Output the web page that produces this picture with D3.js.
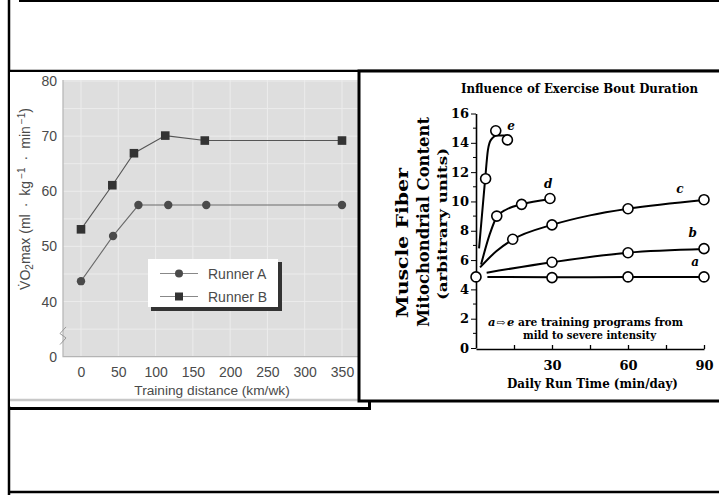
<!DOCTYPE html>
<html>
<head>
<meta charset="utf-8">
<script src="https://cdn.jsdelivr.net/npm/d3@7"></script>
<style>
  body { margin: 0; background: #fff; }
  svg { display: block; }
  .sans text { font-family: "Liberation Sans", Arial, sans-serif; }
  .serif text { font-family: "DejaVu Serif", serif; font-weight: bold; }
</style>
</head>
<body>
<div id="chart"></div>
<script>
// ---- left chart data: VO2max vs training distance ----
const trainingKm = [0, 43, 77, 117, 168, 350];
const runnerA = [43.7, 51.9, 57.5, 57.5, 57.5, 57.5];
const runnerBKm = [0, 42, 71, 113, 166, 350];
const runnerB = [53.1, 61.1, 66.9, 70.1, 69.2, 69.2];
const kmTicks = [0, 50, 100, 150, 200, 250, 300, 350];
const vo2Ticks = [30, 40, 50, 60, 70, 80]; // 30 is shown as "0" (broken axis)

// ---- right chart data: mitochondrial content vs daily run time ----
const runTicks = [15, 30, 45, 60, 75, 90];
const contentTicks = [0, 2, 4, 6, 8, 10, 12, 14, 16];
// fitted curves
const curveA = [[4.5, 4.85], [30, 4.82], [60, 4.85], [90, 4.85]];
const curveB = [[4.2, 5.14], [30, 5.85], [60, 6.5], [90, 6.75]];
const curveC = [[1.6, 5.5], [8, 6.6], [14.5, 7.4], [30, 8.4], [45, 9.05], [60, 9.5], [90, 10.1]];
const curveD = [[2, 5.7], [5.5, 7.8], [8.2, 8.95], [12, 9.45], [18, 9.8], [29, 10.15]];
const curveE = [[1.2, 6.8], [3.6, 11.5], [4.7, 13.5], [5.9, 14.2], [8.3, 14.5], [12.4, 14.5]];
// measured points
const pointsA = [[0, 4.85], [30, 4.8], [60, 4.85], [90, 4.85]];
const pointsB = [[30, 5.85], [60, 6.5], [90, 6.78]];
const pointsC = [[14.5, 7.42], [30, 8.4], [60, 9.5], [90, 10.12]];
const pointsD = [[8.2, 9.0], [18, 9.8], [29.2, 10.2]];
const pointsE = [[3.8, 11.55], [7.8, 14.82], [12.4, 14.2]];
const curveNames = ["a", "b", "c", "d", "e"];
const labelAt = [[86.5, 5.6], [85.5, 7.6], [80.5, 10.6], [28.5, 10.9], [13.8, 14.9]];

const width = 719, height = 495;

const svg = d3.select("#chart").append("svg")
    .attr("width", width)
    .attr("height", height);

// slide frame
svg.append("line").attr("x1", 19).attr("x2", width).attr("y1", 1).attr("y2", 1)
    .attr("stroke", "#000").attr("stroke-width", 2);
svg.append("line").attr("x1", 9).attr("x2", width).attr("y1", 71).attr("y2", 71)
    .attr("stroke", "#000").attr("stroke-width", 2.5);
svg.append("line").attr("x1", 9).attr("x2", 9).attr("y1", 0).attr("y2", height)
    .attr("stroke", "#000").attr("stroke-width", 2.5);
svg.append("line").attr("x1", 9).attr("x2", width).attr("y1", 492).attr("y2", 492)
    .attr("stroke", "#000").attr("stroke-width", 2.5);

// ================= left panel =================
const left = svg.append("g").attr("class", "sans");

left.append("rect").attr("x", 10).attr("y", 72).attr("width", 358).attr("height", 334)
    .attr("fill", "#fff");
left.append("line").attr("x1", 10).attr("x2", 367).attr("y1", 400).attr("y2", 400)
    .attr("stroke", "#c8c8c8").attr("stroke-width", 2.5);
left.append("path").attr("d", "M10,408.5H369.5V399")
    .attr("fill", "none").attr("stroke", "#000").attr("stroke-width", 3);

const xA = d3.scaleLinear().domain([0, 350]).range([81, 342]);
const yA = d3.scaleLinear().domain([30, 80]).range([356.7, 81]);

// plot background
left.append("rect")
    .attr("x", 63).attr("y", yA(80) - 1)
    .attr("width", 300).attr("height", yA(30) - yA(80) + 1)
    .attr("fill", "#dedede");

// grid
left.append("g").selectAll("line")
    .data(d3.range(35, 81, 5))
    .join("line")
    .attr("x1", 63).attr("x2", 363)
    .attr("y1", d => yA(d)).attr("y2", d => yA(d))
    .attr("stroke", "#ececec").attr("stroke-width", 1);
left.append("g").selectAll("line")
    .data(kmTicks)
    .join("line")
    .attr("x1", d => xA(d)).attr("x2", d => xA(d))
    .attr("y1", yA(80) - 1).attr("y2", yA(30))
    .attr("stroke", "#ececec").attr("stroke-width", 1);

// plot edges
left.append("path")
    .attr("d", `M63,${yA(80) - 1}V${yA(30)}H363`)
    .attr("fill", "none").attr("stroke", "#b4b4b4").attr("stroke-width", 1.2);
// axis break
left.append("path")
    .attr("d", `M60,${yA(32.2)}L66,${yA(33.4)}L60,${yA(34.2)}L66,${yA(35.4)}`)
    .attr("fill", "none").attr("stroke", "#999").attr("stroke-width", 1);

// axes
const yAxisA = left.append("g")
    .attr("transform", "translate(63,0)")
    .call(d3.axisLeft(yA).tickValues(vo2Ticks).tickSize(0).tickPadding(6)
        .tickFormat(d => d === 30 ? "0" : d));
const xAxisA = left.append("g")
    .attr("transform", `translate(0,${yA(30)})`)
    .call(d3.axisBottom(xA).tickValues(kmTicks).tickSize(0).tickPadding(10));
[yAxisA, xAxisA].forEach(g => {
    g.select(".domain").remove();
    g.selectAll("text").attr("fill", "#4a4a4a").style("font-size", "14px");
});

left.append("text")
    .attr("x", 212).attr("y", 395)
    .attr("text-anchor", "middle")
    .attr("fill", "#4a4a4a")
    .style("font-size", "13.7px")
    .text("Training distance (km/wk)");

const yLab = left.append("text")
    .attr("transform", "translate(30,199) rotate(-90)")
    .attr("text-anchor", "middle")
    .attr("fill", "#4a4a4a")
    .style("font-size", "14px");
yLab.append("tspan").text("V\u0307O");
yLab.append("tspan").attr("baseline-shift", "-25%").style("font-size", "10px").text("2");
yLab.append("tspan").text("max (ml\u2002\u00b7\u2002kg");
yLab.append("tspan").attr("baseline-shift", "super").style("font-size", "10px").text("\u2009\u22121");
yLab.append("tspan").text("\u2002\u00b7\u2002min");
yLab.append("tspan").attr("baseline-shift", "super").style("font-size", "10px").text("\u2009\u22121");
yLab.append("tspan").text(")");

// series lines
const lineA = d3.line().x(d => xA(d[0])).y(d => yA(d[1]));
const runA = trainingKm.map((k, i) => [k, runnerA[i]]);
const runB = runnerBKm.map((k, i) => [k, runnerB[i]]);

left.append("path").datum(runA).attr("d", lineA)
    .attr("fill", "none").attr("stroke", "#6a6a6a").attr("stroke-width", 1.1);
left.append("path").datum(runB).attr("d", lineA)
    .attr("fill", "none").attr("stroke", "#555").attr("stroke-width", 1.1);

left.append("g").selectAll("circle")
    .data(runA)
    .join("circle")
    .attr("cx", d => xA(d[0])).attr("cy", d => yA(d[1]))
    .attr("r", 4.2).attr("fill", "#4a4a4a");
left.append("g").selectAll("rect")
    .data(runB)
    .join("rect")
    .attr("x", d => xA(d[0]) - 4.3).attr("y", d => yA(d[1]) - 4.3)
    .attr("width", 8.6).attr("height", 8.6).attr("fill", "#333");

// legend
const legend = left.append("g").attr("transform", "translate(148,259)");
legend.append("rect").attr("x", 3).attr("y", 3).attr("width", 131).attr("height", 49)
    .attr("fill", "#333");
legend.append("rect").attr("x", 0).attr("y", 0).attr("width", 130).attr("height", 48)
    .attr("fill", "#fff");
const legRows = [
    { name: "Runner A", y: 14.5, shape: "circle" },
    { name: "Runner B", y: 37.5, shape: "square" }
];
legRows.forEach(r => {
    legend.append("line").attr("x1", 12).attr("x2", 50).attr("y1", r.y).attr("y2", r.y)
        .attr("stroke", "#888").attr("stroke-width", 1);
    if (r.shape === "circle") {
        legend.append("circle").attr("cx", 31).attr("cy", r.y).attr("r", 4).attr("fill", "#4a4a4a");
    } else {
        legend.append("rect").attr("x", 27).attr("y", r.y - 4).attr("width", 8).attr("height", 8)
            .attr("fill", "#333");
    }
    legend.append("text").attr("x", 60).attr("y", r.y + 5)
        .attr("fill", "#4a4a4a").style("font-size", "14px").text(r.name);
});

// ================= right panel =================
const right = svg.append("g").attr("class", "serif");

right.append("rect").attr("x", 359).attr("y", 71).attr("width", 365).attr("height", 330)
    .attr("fill", "#fff").attr("stroke", "#000").attr("stroke-width", 3);

const xB = d3.scaleLinear().domain([0, 90]).range([476, 704]);
const yB = d3.scaleLinear().domain([0, 16]).range([348, 113.5]);

right.append("text")
    .attr("x", 579.5).attr("y", 93)
    .attr("text-anchor", "middle")
    .attr("textLength", 237).attr("lengthAdjust", "spacingAndGlyphs")
    .style("font-size", "12px")
    .text("Influence of Exercise Bout Duration");

// y axis with minor ticks
right.append("g").selectAll("line")
    .data(d3.range(1, 16, 2))
    .join("line")
    .attr("x1", 473).attr("x2", 476)
    .attr("y1", d => yB(d)).attr("y2", d => yB(d))
    .attr("stroke", "#000").attr("stroke-width", 1);
const yAxisB = right.append("g")
    .attr("transform", "translate(476,0)")
    .call(d3.axisLeft(yB).tickValues(contentTicks).tickSize(5).tickSizeOuter(0).tickPadding(2));
yAxisB.select(".domain").attr("stroke-width", 1.6);

const xAxisB = right.append("g")
    .attr("transform", `translate(0,${yB(0) + 1})`)
    .call(d3.axisBottom(xB).tickValues(runTicks).tickSize(-4).tickSizeOuter(0).tickPadding(12)
        .tickFormat(d => d % 30 === 0 ? d : ""));
xAxisB.select(".domain").attr("stroke-width", 1.6);
xAxisB.selectAll(".tick line").attr("stroke-width", 1.3);
[yAxisB, xAxisB].forEach(g => {
    g.selectAll("text").attr("fill", "#000").style("font-size", "13px")
        .style("font-family", "'DejaVu Serif', serif").style("font-weight", "bold");
});

right.append("text")
    .attr("x", 592.5).attr("y", 388)
    .attr("text-anchor", "middle")
    .attr("textLength", 171).attr("lengthAdjust", "spacingAndGlyphs")
    .style("font-size", "13px")
    .text("Daily Run Time (min/day)");

right.append("text")
    .attr("transform", "translate(408,243) rotate(-90)")
    .attr("text-anchor", "middle")
    .attr("textLength", 150).attr("lengthAdjust", "spacingAndGlyphs")
    .style("font-size", "17px")
    .text("Muscle Fiber");
right.append("text")
    .attr("transform", "translate(429,222) rotate(-90)")
    .attr("text-anchor", "middle")
    .attr("textLength", 210).attr("lengthAdjust", "spacingAndGlyphs")
    .style("font-size", "16.5px")
    .text("Mitochondrial Content");
right.append("text")
    .attr("transform", "translate(447,224) rotate(-90)")
    .attr("text-anchor", "middle")
    .attr("textLength", 152).attr("lengthAdjust", "spacingAndGlyphs")
    .style("font-size", "12px")
    .text("(arbitrary units)");

// curves and points
const curveLine = d3.line()
    .x(d => xB(d[0])).y(d => yB(d[1]))
    .curve(d3.curveMonotoneX);
const curves = [curveA, curveB, curveC, curveD, curveE];
const points = [pointsA, pointsB, pointsC, pointsD, pointsE];

right.append("g").selectAll("path")
    .data(curves)
    .join("path")
    .attr("d", curveLine)
    .attr("fill", "none").attr("stroke", "#000").attr("stroke-width", 2);

right.append("g").selectAll("circle")
    .data(points.flat())
    .join("circle")
    .attr("cx", d => xB(d[0])).attr("cy", d => yB(d[1]))
    .attr("r", 5).attr("fill", "#fff").attr("stroke", "#000").attr("stroke-width", 1.6);

right.append("g").selectAll("text")
    .data(curveNames)
    .join("text")
    .attr("x", (d, i) => xB(labelAt[i][0]))
    .attr("y", (d, i) => yB(labelAt[i][1]))
    .attr("text-anchor", "middle")
    .style("font-size", "12px").style("font-style", "italic")
    .text(d => d);

// annotation: "a ⇨ e  are training programs from / mild to severe intensity"
const note = right.append("g").style("font-size", "11.5px");
note.append("text").attr("x", 488).attr("y", 326).style("font-style", "italic").text("a");
note.append("text").attr("x", 496.5).attr("y", 325.5)
    .attr("textLength", 9).attr("lengthAdjust", "spacingAndGlyphs")
    .style("font-size", "10px").text("\u21e8");
note.append("text").attr("x", 507).attr("y", 326).style("font-style", "italic").text("e");
note.append("text").attr("x", 518).attr("y", 326)
    .attr("textLength", 165).attr("lengthAdjust", "spacingAndGlyphs")
    .text("are training programs from");
note.append("text")
    .attr("x", 589.5).attr("y", 339)
    .attr("text-anchor", "middle")
    .attr("textLength", 133).attr("lengthAdjust", "spacingAndGlyphs")
    .text("mild to severe intensity");
</script>
</body>
</html>
